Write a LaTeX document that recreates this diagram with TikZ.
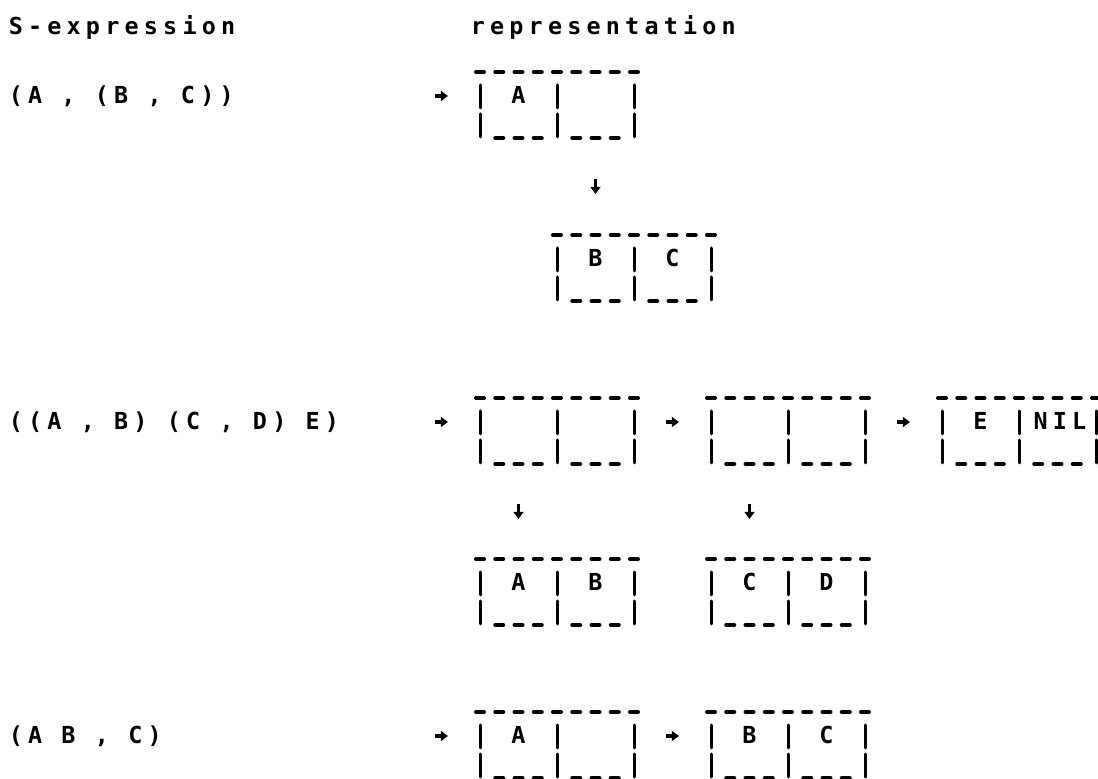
\documentclass[tikz,border=0pt]{standalone}
\usepackage{fontspec}
\newfontfamily\typerls[LetterSpace=22.3]{DejaVu Sans Mono}
\newfontfamily\typer{DejaVu Sans Mono}
\usetikzlibrary{calc,arrows.meta}
\newcommand\rowfont{\typerls\bfseries\fontsize{11.7pt}{14pt}\selectfont}
\newcommand\cellfont{\typer\bfseries\fontsize{11.7pt}{14pt}\selectfont}
% column centre: 18 + 19.25*c (pixels)
\newcommand\consbox[5]{%
  \coordinate (#1) at ({18+19.25*#2},#3);
  \foreach \k in {0,...,8}{\draw[topdash] ($(#1)+({19.25*\k-4},0)$) -- ++(8,0);}
  \foreach \k in {0,4,8}{\draw[bar] ($(#1)+({19.25*\k},13)$) -- ++(0,23);
                         \draw[bar] ($(#1)+({19.25*\k},42)$) -- ++(0,23);}
  \foreach \k in {1,2,3,5,6,7}{\draw[topdash] ($(#1)+({19.25*\k-4},66)$) -- ++(8,0);}
  \node[cell] (#1-car) at ($(#1)+(38.5,32)$) {#4};
  \node[cell] (#1-cdr) at ($(#1)+(115.5,32)$) {#5};
}
\begin{document}
\begin{tikzpicture}[x=0.5pt,y=-0.5pt,
  topdash/.style={line width=2pt,line cap=round},
  bar/.style={line width=1.5pt,line cap=round},
  cell/.style={anchor=base,inner sep=0pt,font=\cellfont},
  rowtext/.style={anchor=base west,inner sep=0pt,font=\rowfont},
  ptr/.style={line width=1.6pt,-{Triangle[length=3.6pt,width=5pt]}}]
\fill[white] (0,0) rectangle (1098,779);
\useasboundingbox (0,0) rectangle (1098,779);

% headings
\node[rowtext] (h1) at (8.4,35) {S-expression};
\node[rowtext] (h2) at (470.4,35) {representation};

% ---------- row 1 ----------
\node[rowtext] (e1) at (8.4,104) {(A , (B , C))};
\coordinate (r1s) at (435,96); \coordinate (r1e) at (448,96);
\draw[ptr] (r1s) -- (r1e);
\consbox{b11}{24}{72}{A}{}
\coordinate (d1s) at (595.5,179); \coordinate (d1e) at (595.5,194);
\draw[ptr] (d1s) -- (d1e);
\consbox{b12}{28}{235}{B}{C}

% ---------- row 2 ----------
\node[rowtext] (e2) at (8.4,430) {((A , B) (C , D) E)};
\coordinate (r2s) at (435,422); \coordinate (r2e) at (448,422);
\draw[ptr] (r2s) -- (r2e);
\consbox{b21}{24}{398}{}{}
\coordinate (r3s) at (666,422); \coordinate (r3e) at (679,422);
\draw[ptr] (r3s) -- (r3e);
\consbox{b22}{36}{398}{}{}
\coordinate (r4s) at (897,422); \coordinate (r4e) at (910,422);
\draw[ptr] (r4s) -- (r4e);
\consbox{b23}{48}{398}{E}{}
\node[rowtext,anchor=base] (nil) at ($(b23)+(118,32)$) {NIL};
\coordinate (d2s) at (518.5,504); \coordinate (d2e) at (518.5,519);
\draw[ptr] (d2s) -- (d2e);
\coordinate (d3s) at (749.5,504); \coordinate (d3e) at (749.5,519);
\draw[ptr] (d3s) -- (d3e);
\consbox{b24}{24}{559}{A}{B}
\consbox{b25}{36}{559}{C}{D}

% ---------- row 3 ----------
\node[rowtext] (e3) at (8.4,744) {(A B , C)};
\coordinate (r5s) at (435,736); \coordinate (r5e) at (448,736);
\draw[ptr] (r5s) -- (r5e);
\consbox{b31}{24}{712}{A}{}
\coordinate (r6s) at (666,736); \coordinate (r6e) at (679,736);
\draw[ptr] (r6s) -- (r6e);
\consbox{b32}{36}{712}{B}{C}
\end{tikzpicture}
\end{document}
